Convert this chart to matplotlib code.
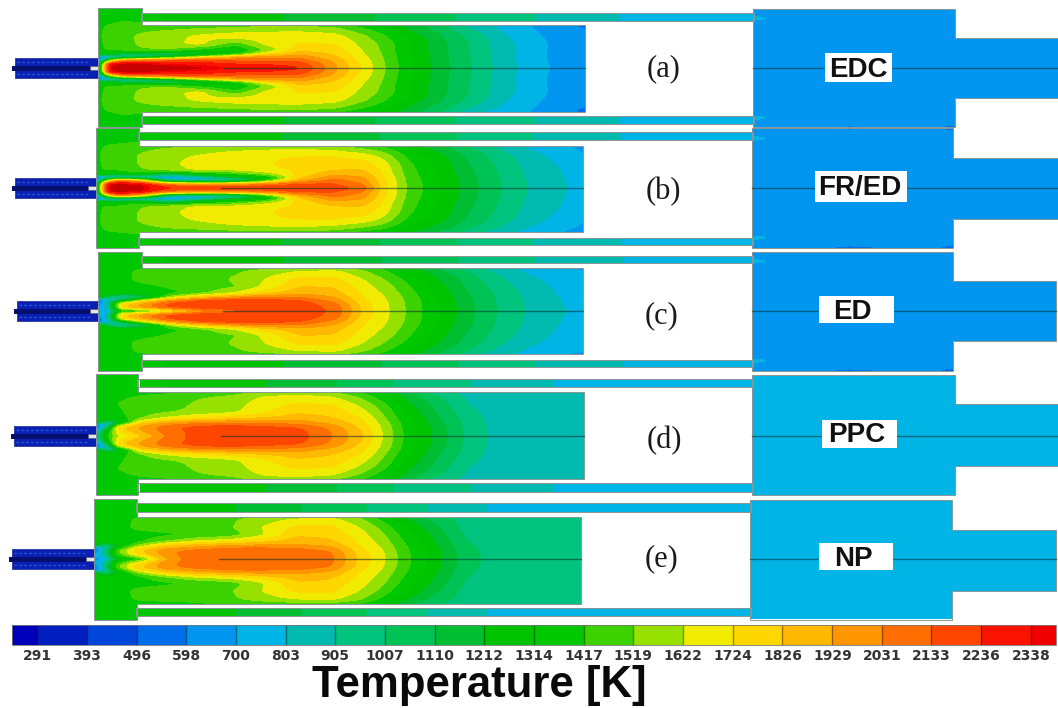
import numpy as np
import matplotlib
matplotlib.use("Agg")
import matplotlib.pyplot as plt
from matplotlib.colors import ListedColormap, BoundaryNorm
from matplotlib.cm import ScalarMappable
from matplotlib.path import Path
from matplotlib.patches import PathPatch, Rectangle

LEVELS = [291, 393, 496, 598, 700, 803, 905, 1007, 1110, 1212, 1314, 1417,
          1519, 1622, 1724, 1826, 1929, 2031, 2133, 2236, 2338]
BAND_COLORS = ["#0000bc", "#001fbe", "#0046d8", "#006eeb", "#0096f0", "#00b4e6",
               "#00b9af", "#00c37d", "#00c355", "#00be32", "#00c300", "#00c800",
               "#3cd200", "#96e100", "#f0eb00", "#ffd700", "#ffb900", "#ff9600",
               "#ff6e00", "#ff4600", "#fa1400", "#f00000"]
CORE_LEVEL = 2375
CORE_COLOR = "#c80000"

STATION_X = [98, 108, 120, 142, 170, 200, 235, 265, 300, 335, 365, 385, 410, 440, 470, 500, 530, 560, 586]
STATION_R = [0, 4, 8, 11, 14, 18, 24, 32, 40, 45]

T_A = [
 [900,2400,2400,2400,2400,2400,2330,2290,2245,1950,1690,1519,1330,1160,1015,870,760,670,630],
 [700,2390,2390,2390,2350,2300,2240,2230,2200,1930,1680,1515,1325,1155,1010,865,755,665,625],
 [500,1300,1900,2050,2100,2130,2100,2100,2080,1890,1660,1510,1320,1150,1005,860,750,660,620],
 [400,650,800,1000,1300,1650,1900,2000,1990,1840,1640,1500,1315,1150,1005,860,750,660,620],
 [1380,1250,1100,1000,950,1050,1350,1700,1900,1810,1620,1495,1310,1148,1003,858,750,660,620],
 [1380,1430,1450,1500,1500,1380,1280,1520,1790,1770,1600,1485,1310,1146,1002,857,750,660,622],
 [1380,1450,1470,1540,1600,1650,1450,1640,1730,1720,1580,1480,1310,1145,1000,855,750,665,625],
 [1380,1470,1480,1540,1590,1640,1680,1690,1690,1660,1530,1420,1270,1120,970,830,730,655,610],
 [1375,1450,1460,1480,1490,1510,1530,1550,1560,1530,1410,1330,1190,1050,900,790,705,640,590],
 [1370,1400,1420,1420,1420,1420,1430,1440,1440,1400,1300,1250,1130,1000,830,750,690,620,560],
]
T_B = [
 [900,2400,2400,2400,2300,2280,2270,2260,2250,2200,2100,1780,1500,1330,1160,1020,900,830,750],
 [700,2390,2390,2380,2000,1900,1950,2000,2150,2140,2030,1770,1495,1328,1158,1018,898,828,748],
 [500,1400,2000,1700,800,720,760,1300,1850,2060,1970,1755,1490,1320,1150,1015,895,825,745],
 [400,650,720,700,700,800,1200,1250,1780,1980,1930,1740,1480,1315,1145,1010,890,820,740],
 [1380,1300,1250,1350,1000,1300,1400,1550,1750,1890,1880,1720,1470,1310,1140,1005,885,815,735],
 [1380,1430,1430,1500,1570,1640,1640,1680,1740,1820,1830,1700,1460,1300,1130,1000,880,810,725],
 [1380,1450,1430,1530,1600,1660,1700,1710,1760,1770,1770,1670,1440,1285,1115,985,865,795,715],
 [1380,1460,1450,1530,1590,1630,1690,1710,1720,1720,1680,1590,1390,1245,1085,960,845,770,700],
 [1375,1440,1440,1490,1520,1540,1570,1590,1600,1580,1500,1440,1300,1160,1020,900,800,730,680],
 [1370,1400,1410,1420,1430,1440,1450,1450,1450,1420,1350,1300,1190,1070,950,830,750,700,630],
]
T_C = [
 [700,650,1300,1350,1650,1950,2100,2160,2200,2110,1780,1650,1490,1310,1135,995,890,815,770],
 [700,800,1800,2000,2170,2210,2220,2220,2210,2090,1770,1645,1487,1305,1130,990,885,810,765],
 [500,900,1650,1900,2150,2230,2240,2230,2190,2040,1750,1640,1485,1300,1125,985,880,805,760],
 [500,700,1000,1550,1900,2120,2170,2160,2120,1970,1730,1630,1480,1295,1120,985,880,805,755],
 [1370,1000,800,1000,1550,1780,1950,2040,2020,1920,1710,1620,1470,1290,1115,980,875,800,750],
 [1370,1360,1330,1300,1380,1480,1620,1780,1900,1860,1690,1600,1450,1270,1100,970,865,790,745],
 [1370,1370,1370,1380,1430,1470,1510,1650,1830,1820,1660,1570,1420,1240,1080,950,850,780,735],
 [1370,1370,1380,1450,1470,1480,1530,1620,1750,1750,1610,1510,1370,1200,1050,920,820,760,725],
 [1370,1370,1380,1440,1450,1460,1500,1560,1620,1640,1520,1430,1280,1130,980,870,780,730,700],
 [1370,1370,1370,1380,1390,1390,1400,1420,1450,1460,1400,1330,1200,1060,930,800,730,690,640],
]
T_D = [
 [750,1400,1600,1800,2050,2190,2210,2210,2180,2030,1830,1622,1370,1170,980,870,860,855,850],
 [700,1300,1700,1900,2080,2170,2200,2200,2170,2020,1820,1610,1365,1165,975,865,858,853,850],
 [500,1000,1800,1950,2100,2180,2200,2180,2140,2000,1790,1600,1360,1160,970,865,858,853,850],
 [500,700,1500,1900,2030,2100,2120,2080,2050,1940,1770,1590,1350,1150,965,865,858,853,850],
 [1370,900,1100,1700,1880,1960,1990,1980,1970,1880,1740,1570,1340,1140,960,865,858,853,850],
 [1370,1360,1350,1500,1640,1720,1780,1830,1880,1830,1710,1540,1320,1120,950,860,856,852,850],
 [1370,1370,1400,1470,1510,1550,1600,1700,1810,1780,1650,1500,1290,1090,930,860,855,852,850],
 [1370,1380,1420,1450,1460,1540,1570,1680,1730,1720,1580,1440,1230,1060,900,858,854,851,850],
 [1370,1375,1400,1420,1430,1500,1530,1620,1640,1610,1470,1340,1160,1000,880,855,853,850,850],
 [1370,1370,1380,1390,1400,1420,1440,1500,1520,1470,1370,1260,1080,930,860,852,851,850,850],
]
T_E = [
 [680,650,1200,1350,1900,2135,2125,2115,2100,2060,1790,1660,1450,1250,1050,965,960,955,950],
 [700,800,1400,1700,2000,2090,2110,2105,2095,2050,1780,1650,1445,1245,1045,963,958,953,950],
 [500,900,1500,1800,2000,2070,2100,2095,2085,2030,1760,1640,1440,1240,1040,962,958,953,950],
 [500,750,1300,1700,1900,1980,2040,2040,2020,1960,1730,1620,1430,1230,1030,962,958,953,950],
 [1370,900,1200,1500,1750,1850,1910,1940,1950,1890,1710,1600,1415,1215,1020,961,957,953,950],
 [1370,1360,1340,1380,1500,1620,1680,1770,1870,1840,1690,1580,1395,1195,1010,960,956,952,950],
 [1370,1370,1370,1380,1400,1420,1470,1600,1810,1800,1660,1550,1360,1170,990,958,955,952,950],
 [1370,1370,1375,1440,1460,1480,1510,1620,1740,1750,1610,1490,1300,1120,970,957,954,951,950],
 [1370,1370,1375,1430,1440,1450,1500,1560,1630,1650,1530,1400,1220,1060,960,955,953,950,950],
 [1370,1370,1370,1380,1390,1400,1420,1450,1460,1470,1400,1300,1120,990,955,953,952,950,950],
]
DOME_RING_A = [1370, 1405, 1410, 1380]
DOME_RING_B = [1370, 1405, 1405, 1380]
DOME_RING_PLAIN = [1370, 1370, 1370, 1370]

ANNULUS_X = [142, 200, 300, 400, 500, 600, 700, 760]
ANNULUS_A = [1340, 1270, 1200, 1080, 950, 820, 730, 700]
ANNULUS_B = [1340, 1270, 1200, 1090, 950, 820, 750, 700]
ANNULUS_C = [1340, 1270, 1200, 1090, 950, 820, 750, 700]
ANNULUS_D = [1340, 1280, 1180, 1000, 870, 750, 730, 720]
ANNULUS_E = [1340, 1270, 1120, 960, 790, 750, 730, 720]

EXIT_X = [745, 765, 785, 850, 930, 950, 1060]
EXIT_R = [0, 44, 50, 54, 60]
EXIT_BLUE = [
 [640, 640, 640, 640, 640, 640, 640],
 [640, 640, 640, 640, 640, 640, 640],
 [740, 710, 640, 640, 640, 640, 640],
 [640, 640, 640, 640, 640, 640, 640],
 [640, 640, 640, 575, 630, 560, 640],
]
EXIT_CYAN = [
 [750, 750, 750, 750, 750, 750, 750],
 [750, 750, 750, 750, 750, 750, 750],
 [750, 750, 750, 750, 750, 750, 750],
 [750, 750, 750, 750, 750, 750, 750],
 [752, 752, 752, 752, 752, 752, 752],
]

FIELDS = [T_A, T_B, T_C, T_D, T_E]
RINGS = [DOME_RING_A, DOME_RING_B, DOME_RING_PLAIN, DOME_RING_PLAIN, DOME_RING_PLAIN]
ANNULI = [ANNULUS_A, ANNULUS_B, ANNULUS_C, ANNULUS_D, ANNULUS_E]
EXITS = [EXIT_BLUE, EXIT_BLUE, EXIT_BLUE, EXIT_CYAN, EXIT_CYAN]

CASE_LABELS = ["(a)", "(b)", "(c)", "(d)", "(e)"]
MODEL_LABELS = ["EDC", "FR/ED", "ED", "PPC", "NP"]
CBAR_LABEL = "Temperature [K]"

# geometry, in reference pixels
YC = [68, 188, 311, 436, 559]
DOME_L = [98, 96, 98, 96, 94]
DOME_R = [142, 139, 142, 138, 137]
TOP = [8, 128, 252, 374, 499]
BOT = [127, 248, 371, 495, 620]
ANN1_T = [13, 132, 256, 379, 503]
ANN1_B = [21, 140, 263, 387, 512]
ANN2_T = [116, 238, 360, 483, 608]
ANN2_B = [124, 245, 367, 492, 616]
LIN_T = [25, 146, 268, 392, 517]
LIN_B = [112, 232, 354, 479, 604]
LIN_R = [585, 583, 583, 584, 581]
EX_L = [753, 752, 752, 752, 750]
EX_R = [955, 953, 953, 955, 952]
EX_T = [9, 128, 252, 375, 500]
EX_B = [127, 248, 371, 495, 620]
TAIL_T = [38, 158, 281, 404, 530]
TAIL_B = [98, 219, 341, 466, 591]
TAIL_R = [1058, 1058, 1056, 1058, 1056]
INJ_L = [15, 15, 17, 14, 12]
CASE_POS = [(664, 69), (663, 192), (661, 316), (664, 441), (661, 559)]
MODEL_TXT = [(858, 68), (860, 186), (852, 310), (857, 433), (853, 557)]
MODEL_BOX = [(825, 53, 67, 29), (815, 171, 92, 31), (819, 296, 75, 27), (822, 420, 75, 28), (819, 543, 74, 27)]

W, H = 1058, 708
fig = plt.figure(figsize=(W / 100, H / 100), dpi=100)
ax = fig.add_axes([0, 0, 1, 1])
ax.set_xlim(0, W)
ax.set_ylim(H, 0)
ax.axis("off")

cmap = ListedColormap(BAND_COLORS)
norm = BoundaryNorm(LEVELS, ncolors=len(BAND_COLORS), extend="both")
field_levels = LEVELS + [CORE_LEVEL]
field_cmap = ListedColormap(BAND_COLORS + [CORE_COLOR])
field_norm = BoundaryNorm(field_levels, ncolors=len(BAND_COLORS) + 1, extend="both")
SANS = "Liberation Sans"


def smooth(arr, axis, passes):
    kernel = np.ones(3) / 3
    for _ in range(passes):
        pad = [(0, 0), (0, 0)]
        pad[axis] = (1, 1)
        p = np.pad(arr, pad, mode="edge")
        arr = np.apply_along_axis(lambda v: np.convolve(v, kernel, "valid"), axis, p)
    return arr


def resample(xs, rs, table, passes_x=5, passes_r=2):
    table = np.asarray(table, float)
    xs = np.asarray(xs, float)
    rs = np.asarray(rs, float)
    y_signed = np.concatenate([-rs[:0:-1], rs])
    full = np.vstack([table[:0:-1], table])
    gx = np.arange(xs[0], xs[-1] + 0.1, 2.0)
    gy = np.arange(y_signed[0], y_signed[-1] + 0.1, 1.0)
    by_x = np.array([np.interp(gx, xs, row) for row in full])
    out = np.array([np.interp(gy, y_signed, by_x[:, j]) for j in range(len(gx))]).T
    return gx, gy, smooth(smooth(out, 1, passes_x), 0, passes_r)


def fill(gx, gy, z, outline):
    cs = ax.contourf(gx, gy, z, levels=field_levels, cmap=field_cmap, norm=field_norm,
                     extend="both", zorder=2)
    path = Path(outline + [outline[0]], closed=True)
    cs.set_clip_path(path, transform=ax.transData)
    ax.add_patch(PathPatch(path, fc="none", ec="#8a9696", lw=0.7, zorder=3))


for i in range(5):
    yc, shift = YC[i], DOME_L[i] - 98
    # injector
    L = DOME_L[i]
    ax.add_patch(Rectangle((INJ_L[i], yc - 10), L - INJ_L[i], 20, fc="#0a1fb4", ec="#2a3a9a", lw=0.6, zorder=2))
    ax.add_patch(Rectangle((INJ_L[i] - 3, yc - 2.5), L - INJ_L[i] - 5, 5, fc="#05106e", ec="none", zorder=2.1))
    ax.add_patch(Rectangle((L - 8, yc - 2), 9, 4, fc="#e6e6e6", ec="#555555", lw=0.4, zorder=2.2))
    for dy in (-6, 6):
        ax.plot([INJ_L[i] + 2, L - 8], [yc + dy, yc + dy], color="#2f6fe0", lw=1.0, ls=(0, (2, 1.5)), alpha=0.7, zorder=2.1)

    # dome and liner
    ring = RINGS[i]
    dome_rows = [ring + [1370] * (len(STATION_X) - len(ring)), [1360] * len(STATION_X)]
    table = FIELDS[i] + dome_rows
    rs = STATION_R + [52, 62]
    gx, gy, z = resample(np.array(STATION_X) + shift, rs, table)
    body = [(L, TOP[i]), (DOME_R[i], TOP[i]), (DOME_R[i], LIN_T[i]), (LIN_R[i], LIN_T[i]),
            (LIN_R[i], LIN_B[i]), (DOME_R[i], LIN_B[i]), (DOME_R[i], BOT[i]), (L, BOT[i])]
    fill(gx, gy + yc, z, body)

    # annular passages
    ann_x = np.array(ANNULUS_X, float) + shift
    ann_z = np.array([ANNULI[i], ANNULI[i]], float)
    for top, bot in ((ANN1_T[i], ANN1_B[i]), (ANN2_T[i], ANN2_B[i])):
        strip = [(DOME_R[i] - 1, top), (EX_L[i] + 1, top), (EX_L[i] + 1, bot), (DOME_R[i] - 1, bot)]
        fill(ann_x, [top - 1, bot + 1], ann_z, strip)

    # exit section
    ex_gx, ex_gy, ex_z = resample(EXIT_X, EXIT_R, EXITS[i], passes_x=1, passes_r=1)
    exit_poly = [(EX_L[i], EX_T[i]), (EX_R[i], EX_T[i]), (EX_R[i], TAIL_T[i]), (TAIL_R[i], TAIL_T[i]),
                 (TAIL_R[i], TAIL_B[i]), (EX_R[i], TAIL_B[i]), (EX_R[i], EX_B[i]), (EX_L[i], EX_B[i])]
    fill(ex_gx, ex_gy + yc, ex_z, exit_poly)

    # axis line
    for x0, x1 in ((L + 125, LIN_R[i]), (EX_L[i], TAIL_R[i])):
        ax.plot([x0, x1], [yc, yc], color="#003030", lw=1.0, alpha=0.55, zorder=4)

    # labels
    x, y = CASE_POS[i]
    ax.text(x, y, CASE_LABELS[i], family="Liberation Serif", fontsize=22, color="#1a1a1a",
            ha="center", va="center", zorder=5)
    bx, by, bw, bh = MODEL_BOX[i]
    ax.add_patch(Rectangle((bx, by), bw, bh, fc="white", ec="none", zorder=5))
    x, y = MODEL_TXT[i]
    ax.text(x, y + 2, MODEL_LABELS[i], family=SANS, fontweight="bold", fontsize=20, color="#111111",
            ha="center", va="center", zorder=6)

# colour bar
cax = fig.add_axes([12 / W, 1 - 645 / H, (1056 - 12) / W, 20 / H])
sm = ScalarMappable(norm=norm, cmap=cmap)
cb = fig.colorbar(sm, cax=cax, orientation="horizontal", extend="both", extendrect=True,
                  extendfrac=25 / 994, drawedges=True, spacing="proportional", ticks=LEVELS)
cb.ax.set_xticklabels([str(v) for v in LEVELS])
cb.ax.tick_params(length=0, pad=3, labelsize=10, labelcolor="#333333")
for t in cb.ax.get_xticklabels():
    t.set_fontweight("bold")
cb.dividers.set_color((0, 0, 0, 0.4))
cb.dividers.set_linewidth(1.0)
cb.outline.set_edgecolor("#777777")
cb.outline.set_linewidth(0.6)

ax.text(479, 686, CBAR_LABEL, family=SANS, fontweight="bold", fontsize=31.5, color="#0a0a0a",
        ha="center", va="center", zorder=6)

fig.savefig("out.png", dpi=100)
